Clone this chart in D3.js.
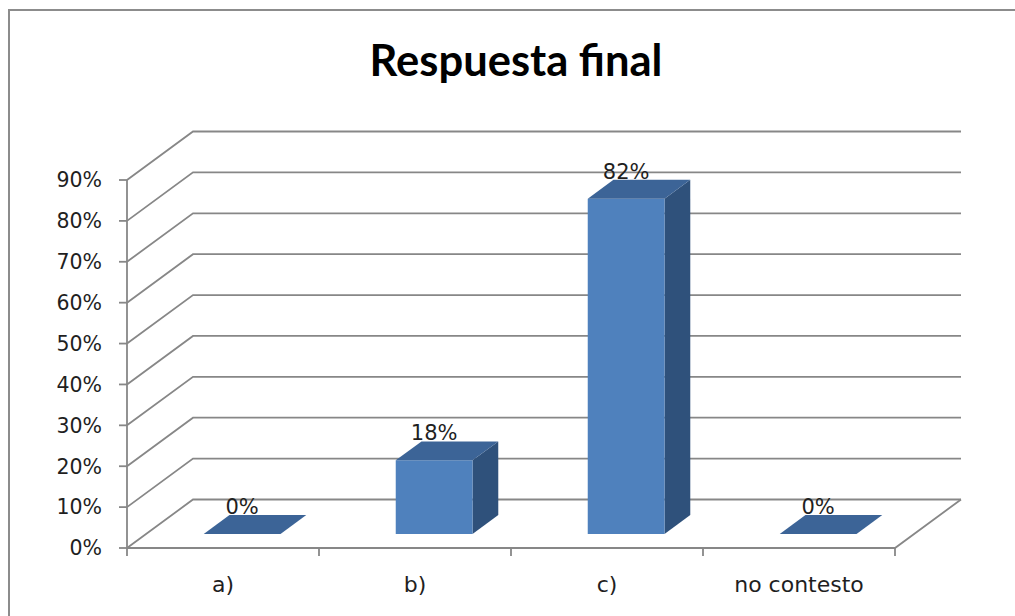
<!DOCTYPE html>
<html>
<head>
<meta charset="utf-8">
<script src="https://cdn.jsdelivr.net/npm/d3@7"></script>
<style>
  html, body { margin: 0; padding: 0; background: #fff; }
  svg { display: block; }
</style>
</head>
<body>
<svg id="chart" width="1015" height="616"></svg>
<script>
// Respuesta final — share of answers per option
const categories = ["a)", "b)", "c)", "no contesto"];
const values = [0, 0.18, 0.82, 0];
const valueLabels = ["0%", "18%", "82%", "0%"];
const tickValues = [0, 0.1, 0.2, 0.3, 0.4, 0.5, 0.6, 0.7, 0.8, 0.9];
const title = "Respuesta final";

const svg = d3.select("#chart");
const W = 1015, H = 616;

// plot box (front plane) and depth vector of the oblique 3D view
const left = 127, right = 895, floorY = 548, topY = 180;
const depth = { dx: 66, dy: -48.5 };
const barFront = 0.29, barBack = 0.68;   // bar depth span, fraction of the box depth

const x = d3.scaleBand().domain(categories).range([left, right]).paddingInner(0).paddingOuter(0);
const y = d3.scaleLinear().domain([0, 0.9]).range([floorY, topY]);

// project (px, value, depth fraction) onto the screen
const P = (px, v, f) => [px + depth.dx * f, y(v) + depth.dy * f];

const gridColor = "#878787";
const textColor = "#1f1f1f";

// outer chart frame (top and left edges)
svg.append("path")
  .attr("d", `M9,${H} L9,10 L${W},10`)
  .attr("fill", "none").attr("stroke", "#8c8c8c").attr("stroke-width", 2);

// title
svg.append("text")
  .attr("x", 516).attr("y", 76)
  .attr("text-anchor", "middle")
  .attr("font-family", "Lato, 'Open Sans', sans-serif")
  .attr("font-weight", "bold")
  .attr("font-size", 43.5)
  .attr("fill", "#000")
  .text(title);

const line = d3.line();

// side-wall and back-wall gridlines
const grid = svg.append("g").attr("fill", "none").attr("stroke", gridColor).attr("stroke-width", 1.8);
grid.selectAll("path.gl")
  .data(tickValues)
  .join("path")
  .attr("class", "gl")
  .attr("d", v => line([P(left, v, 0), P(left, v, 1), P(right, v, 1)]));

// floor: front edge and right edge
grid.append("path")
  .attr("d", line([P(left, 0, 0), P(right, 0, 0), P(right, 0, 1)]));

// value axis
const axisG = svg.append("g").attr("stroke", gridColor).attr("stroke-width", 1.8);
axisG.append("line")
  .attr("x1", left).attr("x2", left)
  .attr("y1", y(0.9)).attr("y2", y(0));
axisG.selectAll("line.tick")
  .data(tickValues)
  .join("line")
  .attr("class", "tick")
  .attr("x1", left - 8).attr("x2", left)
  .attr("y1", d => y(d)).attr("y2", d => y(d));

const fmt = d3.format(".0%");
svg.append("g")
  .selectAll("text")
  .data(tickValues)
  .join("text")
  .attr("x", 102)
  .attr("y", d => y(d))
  .attr("dy", "0.36em")
  .attr("text-anchor", "end")
  .attr("font-family", "'DejaVu Sans', sans-serif")
  .attr("font-size", 20.5)
  .attr("fill", textColor)
  .text(d => fmt(d));

// category axis ticks and labels
const catTicks = [left, ...categories.map(c => x(c) + x.bandwidth())];
axisG.selectAll("line.ctick")
  .data(catTicks)
  .join("line")
  .attr("class", "ctick")
  .attr("x1", d => d).attr("x2", d => d)
  .attr("y1", floorY).attr("y2", floorY + 8);

svg.append("g")
  .selectAll("text")
  .data(categories)
  .join("text")
  .attr("x", d => x(d) + x.bandwidth() / 2)
  .attr("y", 592)
  .attr("text-anchor", "middle")
  .attr("font-family", "'DejaVu Sans', sans-serif")
  .attr("font-size", 22)
  .attr("fill", textColor)
  .text(d => d);

// 3D columns
const frontColor = "#4f81bd", topColor = "#3c6497", sideColor = "#2f517b";
const barW = x.bandwidth() * 0.4;
const bars = svg.append("g");
categories.forEach((c, i) => {
  const v = values[i];
  const x0 = x(c) + (x.bandwidth() - barW) / 2, x1 = x0 + barW;
  const g = bars.append("g");
  if (v > 0) {
    g.append("path").attr("fill", sideColor)
      .attr("d", line([P(x1, 0, barFront), P(x1, 0, barBack), P(x1, v, barBack), P(x1, v, barFront)]) + "Z");
    g.append("path").attr("fill", frontColor)
      .attr("d", line([P(x0, 0, barFront), P(x1, 0, barFront), P(x1, v, barFront), P(x0, v, barFront)]) + "Z");
  }
  g.append("path").attr("fill", topColor)
    .attr("d", line([P(x0, v, barFront), P(x1, v, barFront), P(x1, v, barBack), P(x0, v, barBack)]) + "Z");
});

// data labels
svg.append("g")
  .selectAll("text")
  .data(categories)
  .join("text")
  .attr("x", (c, i) => P(x(c) + x.bandwidth() / 2, values[i], barFront)[0])
  .attr("y", (c, i) => P(0, values[i], barBack)[1] - 1)
  .attr("text-anchor", "middle")
  .attr("font-family", "'DejaVu Sans', sans-serif")
  .attr("font-size", 21)
  .attr("fill", textColor)
  .text((c, i) => valueLabels[i]);
</script>
</body>
</html>
